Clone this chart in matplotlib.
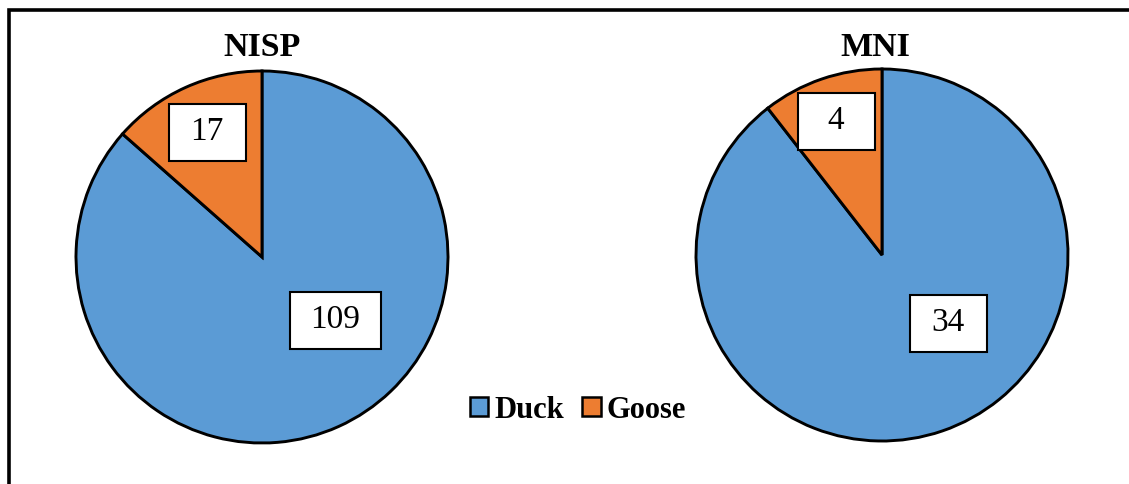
import matplotlib
matplotlib.use("Agg")
import matplotlib.pyplot as plt
from matplotlib.patches import Rectangle, Patch

# data
species = ["Duck", "Goose"]
nisp = [109, 17]
mni = [34, 4]
colors = ["#5B9BD5", "#ED7D31"]

W, H = 1129, 484
plt.rcParams["font.family"] = ["Liberation Serif", "DejaVu Serif"]

fig = plt.figure(figsize=(W / 100, H / 100), dpi=100)
ax = fig.add_axes([0, 0, 1, 1])

R = 186
panels = [
    # title, values, pie centre (px), title x, label centres (px, top-down y)
    ("NISP", nisp, (262, 257), 262, [(335, 320), (207, 132)]),
    ("MNI", mni, (882, 255), 875, [(948, 323), (836, 121)]),
]

for title, vals, (cx, cy), tx, label_pos in panels:
    ax.pie(vals, colors=colors, startangle=90, counterclock=False,
           center=(cx, H - cy), radius=R, frame=True,
           wedgeprops=dict(edgecolor="black", linewidth=2.1))
    ax.text(tx, H - 47, title, ha="center", va="center",
            fontsize=24.5, fontweight="bold")
    for v, (lx, ly) in zip(vals, label_pos):
        bw = 91 if len(str(v)) > 2 else 77
        bh = 57
        ax.add_patch(Rectangle((lx - bw / 2, H - ly - bh / 2), bw, bh,
                               facecolor="white", edgecolor="black",
                               linewidth=1.5, zorder=5))
        ax.text(lx, H - ly, str(v), ha="center", va="center",
                fontsize=24, zorder=6)

# restore full pixel frame after pie() calls
ax.set_xlim(0, W)
ax.set_ylim(0, H)
ax.set_aspect("equal")
ax.axis("off")

handles = [Patch(facecolor=c, edgecolor="black", linewidth=1.8) for c in colors]
fig.legend(handles, species, loc="center", bbox_to_anchor=(578 / W, 1 - 410 / H),
           frameon=False, ncol=2, handlelength=0.6, handleheight=0.6,
           handletextpad=0.2, columnspacing=0.6,
           prop=dict(size=22, weight="bold"))

# outer chart border, running off the right and bottom edges
fig.patches.append(Rectangle((8.5 / W, -0.2), 1.2, 1.2 - 9.5 / H,
                             transform=fig.transFigure, fill=False,
                             edgecolor="black", linewidth=2.6))

fig.savefig("out.png", dpi=100)
